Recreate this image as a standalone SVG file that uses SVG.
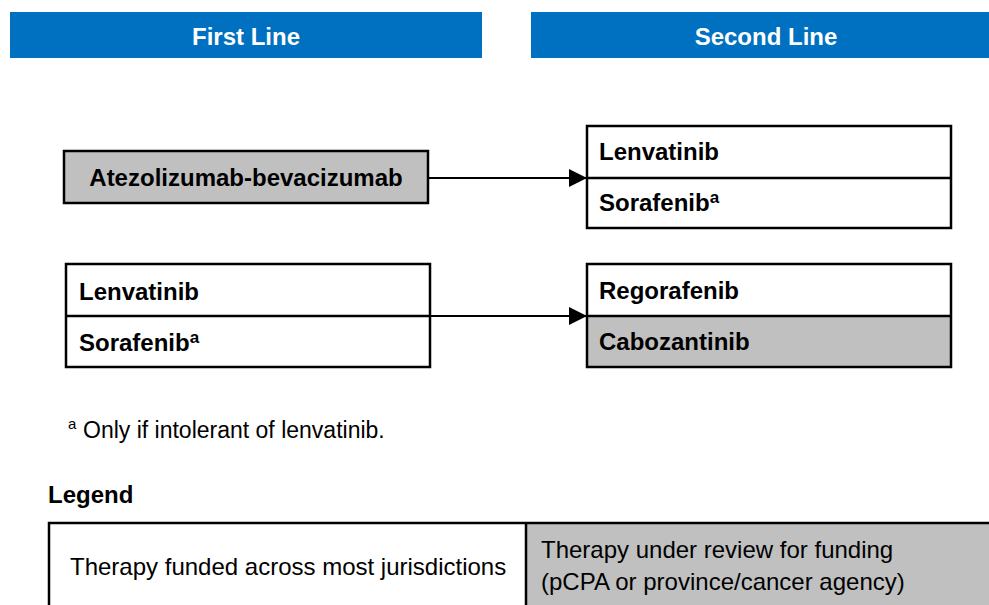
<svg xmlns="http://www.w3.org/2000/svg" width="989" height="605" viewBox="0 0 989 605">
<style>
.hdr{fill:#0070c0}
.hdrt{font-family:"Liberation Sans",Arial,sans-serif;font-size:24px;font-weight:bold;fill:#ffffff;text-anchor:middle}
.box{stroke:#000;stroke-width:2.5;fill:#fff}
.gray{fill:#c0c0c0}
.bt{font-family:"Liberation Sans",Arial,sans-serif;font-size:24px;font-weight:bold;fill:#000}
.rt{font-family:"Liberation Sans",Arial,sans-serif;font-size:24px;fill:#000}
.fn{font-family:"Liberation Sans",Arial,sans-serif;font-size:23px;fill:#000}
.sup{font-size:17px}
.conn{stroke:#000;stroke-width:2;fill:none}
</style>
<defs>
<marker id="arr" markerUnits="userSpaceOnUse" markerWidth="20" markerHeight="20" refX="18" refY="9" orient="auto">
<path d="M0,0 L18,9 L0,18 Z" fill="#000"/>
</marker>
</defs>
<rect width="989" height="605" fill="#fff"/>
<g id="header-first">
<rect class="hdr" x="10" y="12" width="472" height="46"/>
<text class="hdrt" x="246" y="45">First Line</text>
</g>
<g id="header-second">
<rect class="hdr" x="531" y="12" width="458" height="46"/>
<text class="hdrt" x="766" y="45">Second Line</text>
</g>
<g id="atezo">
<rect class="box gray" x="64" y="151" width="364" height="52"/>
<text class="bt" x="246" y="186" text-anchor="middle">Atezolizumab-bevacizumab</text>
</g>
<g id="second-top">
<rect class="box" x="587" y="126" width="364" height="102"/>
<line x1="587" y1="178" x2="951" y2="178" stroke="#000" stroke-width="2.5"/>
<text class="bt" x="599" y="160">Lenvatinib</text>
<text class="bt" x="599" y="211">Sorafenib<tspan class="sup" dy="-8">a</tspan></text>
</g>
<g id="first-bottom">
<rect class="box" x="66" y="264" width="364" height="103"/>
<line x1="66" y1="316" x2="430" y2="316" stroke="#000" stroke-width="2.5"/>
<text class="bt" x="79" y="300">Lenvatinib</text>
<text class="bt" x="79" y="351">Sorafenib<tspan class="sup" dy="-8">a</tspan></text>
</g>
<g id="second-bottom">
<rect x="587" y="316" width="364" height="51" class="gray"/>
<rect x="587" y="264" width="364" height="103" fill="none" stroke="#000" stroke-width="2.5"/>
<line x1="587" y1="316" x2="951" y2="316" stroke="#000" stroke-width="2.5"/>
<text class="bt" x="599" y="299">Regorafenib</text>
<text class="bt" x="599" y="350">Cabozantinib</text>
</g>
<g id="connectors">
<line class="conn" x1="428" y1="178" x2="587" y2="178" marker-end="url(#arr)"/>
<line class="conn" x1="430" y1="316" x2="587" y2="316" marker-end="url(#arr)"/>
</g>
<g id="footnote">
<text class="fn" x="68" y="438"><tspan style="font-size:15px" dy="-9">a</tspan><tspan x="83" dy="9">Only if intolerant of lenvatinib.</tspan></text>
</g>
<g id="legend">
<text class="bt" x="48" y="503">Legend</text>
<rect x="526" y="523" width="470" height="90" class="gray"/>
<rect x="49" y="523" width="950" height="90" fill="none" stroke="#000" stroke-width="2.5"/>
<line x1="526" y1="523" x2="526" y2="605" stroke="#000" stroke-width="2.5"/>
<text class="rt" x="70" y="575">Therapy funded across most jurisdictions</text>
<text class="rt" x="541" y="558">Therapy under review for funding</text>
<text class="rt" x="541" y="590">(pCPA or province/cancer agency)</text>
</g>
</svg>
